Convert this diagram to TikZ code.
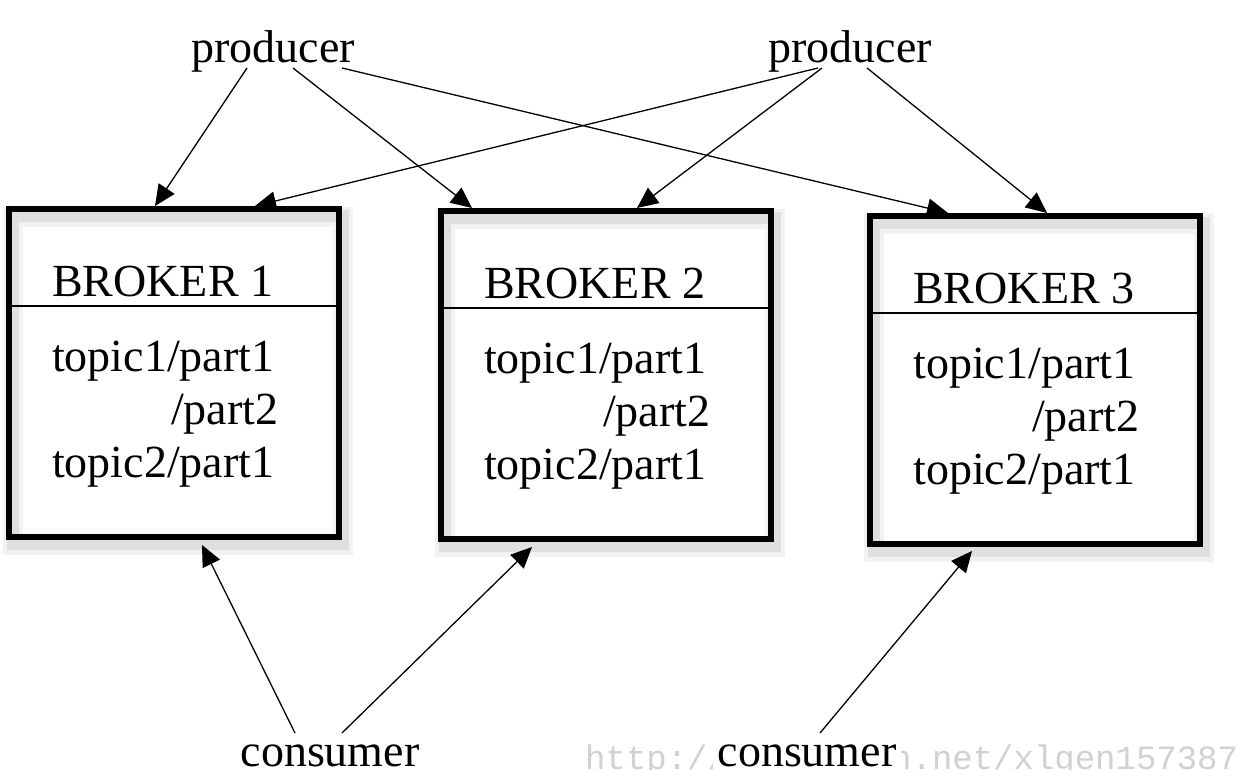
\documentclass[tikz,border=0pt]{standalone}
\usepackage{fontspec}
\setmainfont{Liberation Serif}
\newfontfamily\wmfont{Liberation Mono}
\usetikzlibrary{calc,arrows.meta}

\begin{document}
\begin{tikzpicture}[x=1pt,y=-1pt,every node/.style={inner sep=0pt,font=\fontsize{46}{53}\selectfont},
broker/.style={draw,line width=6pt,minimum width=330pt,minimum height=328pt,preaction={draw=black,opacity=.05,line width=20pt,transform canvas={xshift=4pt,yshift=-8pt}},preaction={draw=black,opacity=.08,line width=12pt,transform canvas={xshift=4pt,yshift=-7pt}}},
arr/.style={-{Triangle[length=21pt,width=19pt]},line width=1.3pt}]
\fill[white] (0,0) rectangle (1260,770);
\useasboundingbox (0,0) rectangle (1260,770);
\node[anchor=base] (p1) at (273,63) {producer};
\node[anchor=base] (p2) at (850,63) {producer};
\foreach \i/\x/\y in {1/174/373,2/606/375,3/1035/380}{
\node[broker] (b\i) at (\x,\y) {};
\node[anchor=base west] (h\i) at ([xshift=46pt,yshift=-90pt]b\i.north west) {BROKER \i};
\draw[line width=1.2pt] ([yshift=-100pt]b\i.north west) -- ([yshift=-100pt]b\i.north east);
\node[anchor=base west] (ta\i) at ([xshift=46pt,yshift=-165pt]b\i.north west) {topic1/part1};
\node[anchor=base west] (tb\i) at ([yshift=-53pt]ta\i.base west) {\hphantom{topic1}\kern4pt/part2};
\node[anchor=base west] (tc\i) at ([yshift=-106pt]ta\i.base west) {topic2/part1};
}
\node[font=\wmfont\fontsize{34}{34}\selectfont,text=black!18,anchor=base west] (wm) at (585,769) {http://blog.csdn.net/xlgen157387};
\node[anchor=base] (c1) at (330,766) {consumer};
\node[anchor=base,fill=white,inner xsep=5pt,inner ysep=14pt] (c2) at (807,766) {consumer};
\draw[arr] ([xshift=-26pt,yshift=-5pt]p1.base) -- ([xshift=-19pt]b1.north);
\draw[arr] ([xshift=20pt,yshift=-5pt]p1.base) -- ([xshift=-134pt]b2.north);
\draw[arr] ([xshift=69pt,yshift=-5pt]p1.base) -- ([xshift=-87pt]b3.north);
\draw[arr] ([xshift=-32pt,yshift=-5pt]p2.base) -- ([xshift=81pt]b1.north);
\draw[arr] ([xshift=-28pt,yshift=-5pt]p2.base) -- ([xshift=31pt]b2.north);
\draw[arr] ([xshift=17pt,yshift=-5pt]p2.base) -- ([xshift=12pt]b3.north);
\draw[arr] ([xshift=-35pt,yshift=33pt]c1.base) -- ([xshift=28pt,yshift=-5pt]b1.south);
\draw[arr] ([xshift=12pt,yshift=33pt]c1.base) -- ([xshift=-74pt,yshift=-5pt]b2.south);
\draw[arr] ([xshift=13pt,yshift=33pt]c2.base) -- ([xshift=-63pt,yshift=-4pt]b3.south);
\end{tikzpicture}
\end{document}
